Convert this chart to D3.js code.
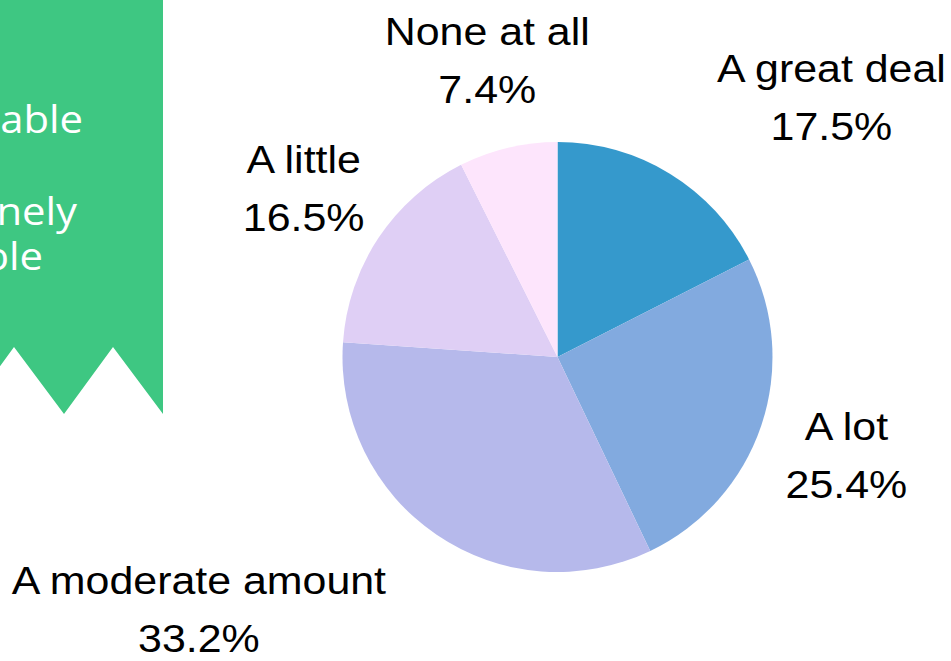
<!DOCTYPE html>
<html>
<head>
<meta charset="utf-8">
<script src="https://cdn.jsdelivr.net/npm/d3@7"></script>
<style>
  html, body { margin: 0; padding: 0; background: #ffffff; overflow: hidden; }
  svg { display: block; }
</style>
</head>
<body>
<svg id="chart" width="951" height="661"></svg>
<script>
// ---- data ----
const categories = ["A great deal", "A lot", "A moderate amount", "A little", "None at all"];
const values = [17.5, 25.4, 33.2, 16.5, 7.4];
const colors = ["#3599cc", "#82aadf", "#b6b9eb", "#dfcff5", "#fde5fc"];
const bannerLines = ["Comfortable", "", "Genuinely", "enjoyable"];

// ---- layout ----
const W = 951, H = 661;
const cx = 557.5, cy = 357, R = 215, labelR = 305;
const fontSize = 39, lineGap = 58, stretch = 1.1;

const svg = d3.select("#chart");

// green banner (partially off-canvas on the left)
const bannerPts = [[-200, 0], [163, 0], [163, 414], [113, 347], [64, 414], [14, 347], [-35, 414], [-200, 414]];
svg.append("path")
  .attr("d", d3.line()(bannerPts) + "Z")
  .attr("fill", "#3ec782");

const bannerText = svg.append("g")
  .attr("font-family", "'Open Sans', sans-serif")
  .attr("font-size", 38)
  .attr("fill", "#ffffff");
const bannerY = [133, 179, 225, 270];
const bannerX = [83, 83, 77, 43];
bannerLines.forEach((t, i) => {
  if (!t) return;
  bannerText.append("text")
    .attr("transform", `translate(${bannerX[i]},${bannerY[i]}) scale(${stretch},1)`)
    .attr("text-anchor", "end")
    .text(t);
});

// pie
const pie = d3.pie().sort(null).value(d => d.value);
const arcs = pie(categories.map((c, i) => ({ cat: c, value: values[i], color: colors[i] })));
const arc = d3.arc().innerRadius(0).outerRadius(R);

const g = svg.append("g").attr("transform", `translate(${cx},${cy})`);
g.selectAll("path.slice")
  .data(arcs)
  .join("path")
  .attr("class", "slice")
  .attr("d", arc)
  .attr("fill", d => d.data.color);

// labels
const fmt = d3.format(".1f");
const lg = svg.append("g")
  .attr("font-family", "'Liberation Sans', Arial, sans-serif")
  .attr("font-size", fontSize)
  .attr("fill", "#000000");

arcs.forEach(d => {
  const mid = (d.startAngle + d.endAngle) / 2;
  const px = cx + labelR * Math.sin(mid);
  const py = cy - labelR * Math.cos(mid);
  const s = Math.sin(mid);
  const block = lg.append("g");
  const lines = [d.data.cat, fmt(d.data.value) + "%"];
  const texts = lines.map((t, i) => block.append("text")
    .attr("y", i * lineGap)
    .attr("text-anchor", "middle")
    .text(t));
  const w = d3.max(texts, t => t.node().getComputedTextLength()) * stretch;
  let bx = px;
  const diag = Math.abs(s) > 0.4 && Math.abs(s) < 0.7;
  if (diag) bx = s > 0 ? px + w / 2 : px - w / 2;
  block.attr("transform", `translate(${bx},${py - 15}) scale(${stretch},1)`);
});
</script>
</body>
</html>
